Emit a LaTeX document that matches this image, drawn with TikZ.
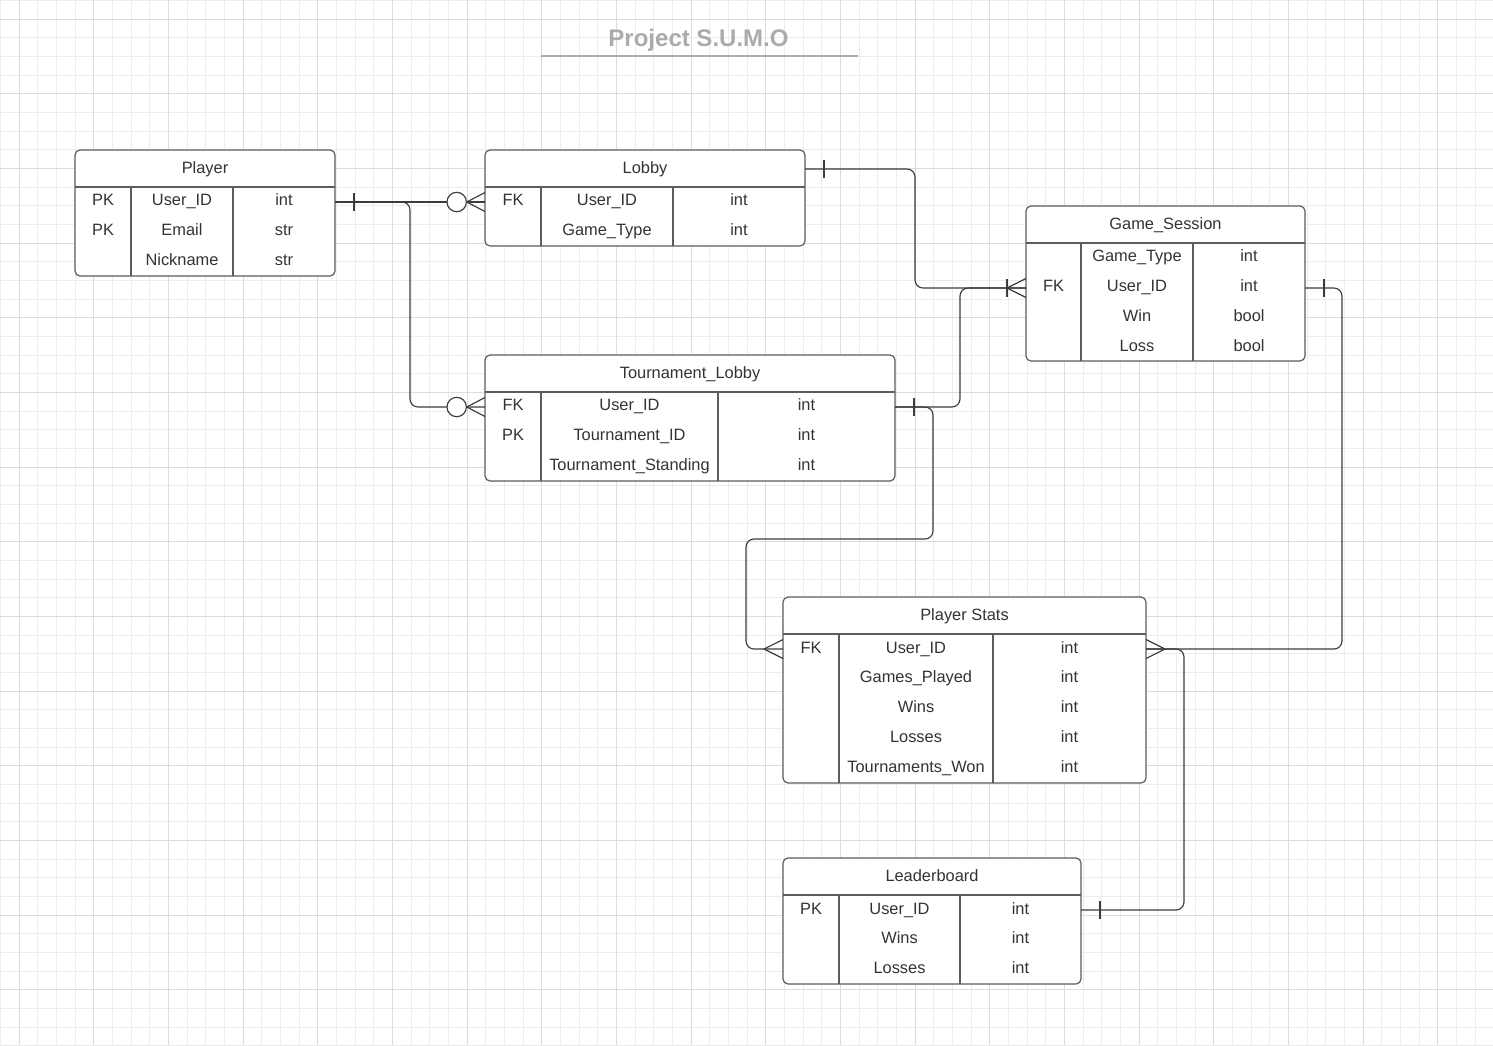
\documentclass[tikz,border=0pt]{standalone}
\usepackage{fontspec}
\setmainfont{Liberation Sans}
\usetikzlibrary{calc}

\definecolor{gridminor}{HTML}{ECECEC}
\definecolor{gridmajor}{HTML}{DCDCDC}
\definecolor{ink}{HTML}{333333}
\definecolor{wire}{HTML}{3C3C3C}
\definecolor{frame}{HTML}{5C5C5C}
\definecolor{titlegray}{HTML}{ABABAB}

\tikzset{
  tablebox/.style={draw=frame, fill=white, line width=1.2pt, rounded corners=5pt,
                   inner sep=0pt, outer sep=0pt, anchor=north west},
  tline/.style={draw=frame, line width=1.2pt},
  cell/.style={anchor=base, yshift=-5.9pt, inner sep=0pt, text=ink,
               font=\fontsize{16.4}{20}\selectfont},
  conn/.style={draw=wire, line width=1.15pt},
  link/.style={conn, rounded corners=8pt},
  minorline/.style={draw=gridminor, line width=0.9pt},
  majorline/.style={draw=gridmajor, line width=0.9pt},
}

% table: #1 name, #2 left, #3 top, #4 right, #5 bottom, #6 first divider, #7 second divider, #8 title
\newcommand\ertable[8]{%
  \node[tablebox, minimum width={(#4-#2)*1pt}, minimum height={(#5-#3)*1pt}] (#1) at (#2,#3) {};
  \draw[tline] (#2,#3+37) -- (#4,#3+37);
  \draw[tline] (#6,#3+37) -- (#6,#5);
  \draw[tline] (#7,#3+37) -- (#7,#5);
  \node[cell] (#1-title) at ({(#2+#4)/2},#3+17.5) {#8};
  \pgfmathsetmacro\colK{(#2+#6)/2}%
  \pgfmathsetmacro\colF{(#6+#7)/2}%
  \pgfmathsetmacro\colT{(#7+#4)/2}%
}
% row: #1 table, #2 index, #3 y, #4 key, #5 field, #6 type
\newcommand\errow[6]{%
  \node[cell] (#1-k#2) at (\colK,#3) {#4};
  \node[cell] (#1-f#2) at (\colF,#3) {#5};
  \node[cell] (#1-t#2) at (\colT,#3) {#6};
}
% crow's-foot notation pieces
\newcommand\erone[2]{\draw[conn] ([shift={(#2pt,9pt)}]#1) -- ([shift={(#2pt,-9pt)}]#1);}
\newcommand\ermany[2]{\draw[conn] ([xshift=#2pt]#1) -- ([yshift=9.5pt]#1) ([xshift=#2pt]#1) -- ([yshift=-9.5pt]#1);}
\newcommand\erzero[2]{\draw[conn, fill=white] ([xshift=#2pt]#1) circle[radius=9.7pt];}

\begin{document}
\begin{tikzpicture}[x=1pt, y=-1pt]
  \useasboundingbox (0,0) rectangle (1493,1045);
  \fill[white] (0,0) rectangle (1493,1045);

  % background grid
  \begin{scope}
    \clip (0,0) rectangle (1493,1045);
    \foreach \k in {0,...,80}
      \draw[minorline] ({0.33+18.6667*\k},0) -- ({0.33+18.6667*\k},1045);
    \foreach \k in {0,...,56}
      \draw[minorline] (0,{0.33+18.6667*\k}) -- (1493,{0.33+18.6667*\k});
    \foreach \k in {0,...,19}
      \draw[majorline] ({19+74.6667*\k},0) -- ({19+74.6667*\k},1045);
    \foreach \k in {0,...,13}
      \draw[majorline] (0,{19+74.6667*\k}) -- (1493,{19+74.6667*\k});
  \end{scope}

  % title
  \node[anchor=base, inner sep=0pt, text=titlegray,
        font=\bfseries\fontsize{24}{28}\selectfont] (title) at (698.5,46.6) {Project S.U.M.O};
  \draw[titlegray, line width=2pt] (541,56) -- (858,56);

  % tables
  \ertable{player}{75}{150}{335}{276}{131}{233}{Player}
  \errow{player}{1}{200}{PK}{User\_ID}{int}
  \errow{player}{2}{230}{PK}{Email}{str}
  \errow{player}{3}{259.5}{}{Nickname}{str}

  \ertable{lobby}{485}{150}{805}{246}{541}{673}{Lobby}
  \errow{lobby}{1}{200}{FK}{User\_ID}{int}
  \errow{lobby}{2}{229.5}{}{Game\_Type}{int}

  \ertable{gsession}{1026}{206}{1305}{361}{1081}{1193}{Game\_Session}
  \errow{gsession}{1}{256}{}{Game\_Type}{int}
  \errow{gsession}{2}{286}{FK}{User\_ID}{int}
  \errow{gsession}{3}{316}{}{Win}{bool}
  \errow{gsession}{4}{346}{}{Loss}{bool}

  \ertable{tlobby}{485}{355}{895}{481}{541}{718}{Tournament\_Lobby}
  \errow{tlobby}{1}{405}{FK}{User\_ID}{int}
  \errow{tlobby}{2}{435}{PK}{Tournament\_ID}{int}
  \errow{tlobby}{3}{465}{}{Tournament\_Standing}{int}

  \ertable{pstats}{783}{597}{1146}{783}{839}{993}{Player Stats}
  \errow{pstats}{1}{648}{FK}{User\_ID}{int}
  \errow{pstats}{2}{677}{}{Games\_Played}{int}
  \errow{pstats}{3}{707}{}{Wins}{int}
  \errow{pstats}{4}{737}{}{Losses}{int}
  \errow{pstats}{5}{767}{}{Tournaments\_Won}{int}

  \ertable{leader}{783}{858}{1081}{984}{839}{960}{Leaderboard}
  \errow{leader}{1}{909}{PK}{User\_ID}{int}
  \errow{leader}{2}{938}{}{Wins}{int}
  \errow{leader}{3}{968}{}{Losses}{int}

  % connection points on the table borders
  \coordinate (pl-e) at ([yshift=-52pt]player.north east);
  \coordinate (pl-split) at ([xshift=67pt]pl-e);
  \coordinate (lo-w) at ([yshift=-52pt]lobby.north west);
  \coordinate (lo-e) at ([yshift=-19pt]lobby.north east);
  \coordinate (tl-w) at ([yshift=-52pt]tlobby.north west);
  \coordinate (tl-e) at ([yshift=-52pt]tlobby.north east);
  \coordinate (gs-w) at ([yshift=-82pt]gsession.north west);
  \coordinate (gs-e) at ([yshift=-82pt]gsession.north east);
  \coordinate (ps-w) at ([yshift=-52pt]pstats.north west);
  \coordinate (ps-e) at ([yshift=-52pt]pstats.north east);
  \coordinate (lb-e) at ([yshift=-52pt]leader.north east);

  % relationships
  \draw[link] (pl-e) -- (lo-w);
  \draw[link] (pl-split) -- ++(8pt,0pt) |- (tl-w);
  \draw[link] (lo-e) -- ++(110pt,0pt) |- (gs-w);
  \draw[link] (tl-e) -- ++(65pt,0pt) |- (gs-w);
  \draw[link] (tl-e) -- ++(38pt,0pt) -- ++(0pt,-132pt) -- ++(-187pt,0pt) |- (ps-w);
  \draw[link] (gs-e) -- ++(37pt,0pt) |- (ps-e);
  \draw[link] (ps-e) -- ++(38pt,0pt) |- (lb-e);

  % cardinality marks
  \erone{pl-e}{19}
  \ermany{lo-w}{-18.3}
  \erzero{lo-w}{-28.3}
  \ermany{tl-w}{-18.3}
  \erzero{tl-w}{-28.3}
  \erone{lo-e}{19}
  \erone{gs-w}{-19}
  \ermany{gs-w}{-19}
  \erone{tl-e}{19}
  \ermany{ps-w}{-19}
  \erone{gs-e}{19}
  \ermany{ps-e}{19}
  \erone{lb-e}{19}
\end{tikzpicture}
\end{document}
